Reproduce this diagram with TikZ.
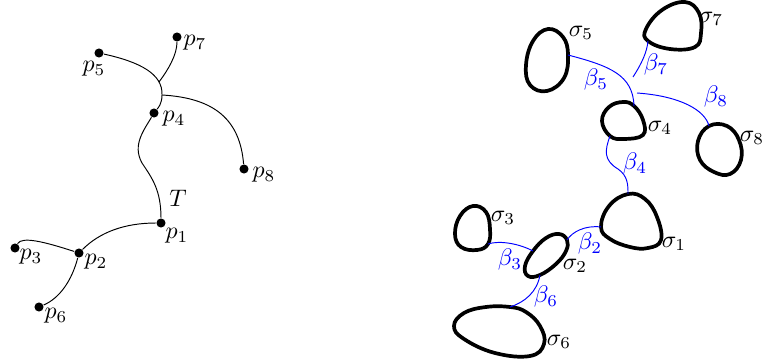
\documentclass[tikz,border=0pt]{standalone}
\usepackage{amsmath,amssymb}
\usetikzlibrary{calc}
\tikzset{
  tdot/.style={circle,fill,inner sep=0pt,minimum size=3.8pt},
  sigloop/.style={line width=1.55pt},
  betaline/.style={blue},
  betalab/.style={text=blue}
}

\begin{document}
\begin{tikzpicture}[x=0.01469cm,y=-0.01469cm]
  \useasboundingbox (0,0) rectangle (764,360);
  % tree T
  \node[tdot] (p1) at (161,223) {};
  \node[tdot] (p2) at (79,253) {};
  \node[tdot] (p3) at (15,248) {};
  \node[tdot] (p4) at (154,113) {};
  \node[tdot] (p5) at (99,53) {};
  \node[tdot] (p6) at (39,307) {};
  \node[tdot] (p7) at (177,37) {};
  \node[tdot] (p8) at (244,169) {};
  \coordinate (j7) at (159,82);
  \coordinate (j8) at (162,95);
  \coordinate (m4) at (142,163);
  \draw (p5) .. controls (140,62) and (163,74) .. (j8)
    .. controls (162,104) and (158,108) .. (p4);
  \draw (p7) .. controls (177,55) and (168,70) .. (j7);
  \draw (j8) .. controls (215,98) and (240,120) .. (p8);
  \draw (p4) .. controls (144,130) and (132,145) .. (m4)
    .. controls (152,178) and (161,190) .. (p1);
  \draw (p1) .. controls (125,223) and (100,232) .. (p2);
  \draw (p2) .. controls (45,242) and (22,236) .. (p3);
  \draw (p2) .. controls (72,280) and (60,298) .. (p6);
  \node (lp1) at (177,236) {$p_1$};
  \node (lp2) at (96,262) {$p_2$};
  \node (lp3) at (31,257) {$p_3$};
  \node (lp4) at (174,119) {$p_4$};
  \node (lp5) at (94,69) {$p_5$};
  \node (lp6) at (56,316) {$p_6$};
  \node (lp7) at (195,43) {$p_7$};
  \node (lp8) at (264,175) {$p_8$};
  \node (lT) at (178,198) {$T$};
  % loops sigma_i
  \coordinate (s5e) at (568,55);
  \coordinate (s4t) at (634,106);
  \coordinate (s4b) at (610,136);
  \coordinate (s7b) at (648,41);
  \coordinate (s8t) at (709,126);
  \coordinate (s1t) at (628,194);
  \coordinate (s1l) at (601,227);
  \coordinate (s2r) at (567,240);
  \coordinate (s2l) at (533,251);
  \coordinate (s2b) at (540,275);
  \coordinate (s3b) at (488,244);
  \coordinate (s6t) at (510,307);
  \draw[sigloop] plot[smooth cycle,tension=0.7] coordinates {(548,29) (563,37) (s5e)
    (564,78) (547,91) (530,85) (526,65) (533,41)};
  \draw[sigloop] plot[smooth cycle,tension=0.7] coordinates {(685,2) (699,13) (701,33)
    (695,47) (670,49) (s7b) (646,29) (662,10)};
  \draw[sigloop] plot[smooth cycle,tension=0.7] coordinates {(623,102) (s4t) (643,120)
    (643,135) (624,139) (s4b) (602,121) (609,107)};
  \draw[sigloop] plot[smooth cycle,tension=0.7] coordinates {(s8t) (727,126) (739,140)
    (741,160) (730,174) (714,172) (700,160) (698,141)};
  \draw[sigloop] plot[smooth cycle,tension=0.7] coordinates {(s1t) (645,199) (657,217)
    (661,240) (648,248) (630,247) (610,239) (s1l) (609,206)};
  \draw[sigloop] plot[smooth cycle,tension=0.7] coordinates {(559,234) (s2r) (566,251)
    (556,264) (s2b) (528,276) (525,266) (s2l) (546,238)};
  \draw[sigloop] plot[smooth cycle,tension=0.7] coordinates {(473,206) (486,212) (490,229)
    (s3b) (477,250) (461,247) (455,234) (460,216)};
  \draw[sigloop] plot[smooth cycle,tension=0.7] coordinates {(486,307) (s6t) (526,312)
    (540,326) (544,344) (530,356) (495,353) (464,339) (454,326) (464,313)};
  \node (ls1) at (674,244) {$\sigma_1$};
  \node (ls2) at (575,266) {$\sigma_2$};
  \node (ls3) at (503,218) {$\sigma_3$};
  \node (ls4) at (660,128) {$\sigma_4$};
  \node (ls5) at (581,33) {$\sigma_5$};
  \node (ls6) at (559,342) {$\sigma_6$};
  \node (ls7) at (711,19) {$\sigma_7$};
  \node (ls8) at (752,138) {$\sigma_8$};
  % arcs beta_i
  \coordinate (b7s) at (633,77);
  \coordinate (b8s) at (637,93);
  \coordinate (b4m) at (618,169);
  \draw[betaline] (s5e) .. controls (610,66) and (633,75) .. (s4t);
  \draw[betaline] (b7s) .. controls (642,63) and (647,52) .. (s7b);
  \draw[betaline] (b8s) .. controls (680,96) and (705,110) .. (s8t);
  \draw[betaline] (s4b) .. controls (605,150) and (603,160) .. (b4m)
    .. controls (628,176) and (628,185) .. (s1t);
  \draw[betaline] (s1l) .. controls (585,225) and (572,232) .. (s2r);
  \draw[betaline] (s3b) .. controls (500,240) and (520,244) .. (s2l);
  \draw[betaline] (s2b) .. controls (537,292) and (525,302) .. (s6t);
  \node[betalab] (lb2) at (590,244) {$\beta_2$};
  \node[betalab] (lb3) at (510,260) {$\beta_3$};
  \node[betalab] (lb4) at (635,164) {$\beta_4$};
  \node[betalab] (lb5) at (596,80) {$\beta_5$};
  \node[betalab] (lb6) at (546,297) {$\beta_6$};
  \node[betalab] (lb7) at (656,65) {$\beta_7$};
  \node[betalab] (lb8) at (716,97) {$\beta_8$};
\end{tikzpicture}
\end{document}
